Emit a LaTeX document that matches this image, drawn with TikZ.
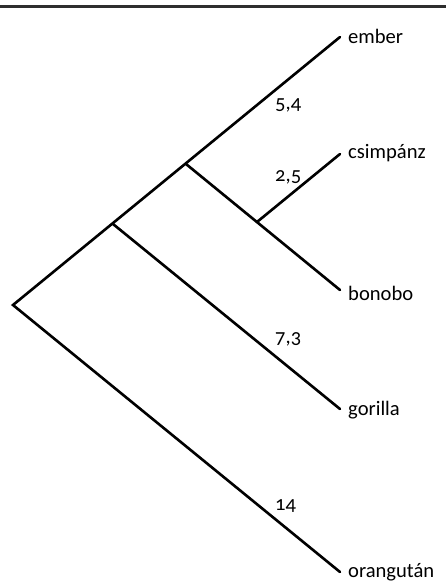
\documentclass[tikz,border=0pt]{standalone}
\usepackage{fontspec}
\setmainfont[Numbers=OldStyle]{Carlito}
\usepackage{tikz}

\tikzset{
  branch/.style={line width=2.6pt,line cap=round,line join=miter},
  leaf/.style={anchor=west,inner sep=0pt,font=\fontsize{20.5}{21}\selectfont},
  dist/.style={anchor=west,inner sep=0pt,font=\fontsize{20.5}{21}\selectfont}
}

\begin{document}
\begin{tikzpicture}[x=0.035cm,y=-0.035cm]
      \useasboundingbox (0,0) rectangle (446,588);
      \draw [line width=2.7pt,color=black!82] (0,6.5) -- (446,6.5);

      \coordinate (root) at (13,305);
      \coordinate (hgp) at (113,224);
      \coordinate (hp) at (186,164);
      \coordinate (pan) at (257,222);
      \coordinate (ember) at (340,37);
      \coordinate (csimp) at (340,154);
      \coordinate (bonobo) at (340,290);
      \coordinate (gorilla) at (340,409);
      \coordinate (orang) at (340,572);

      \node [leaf] (lember) at (348,36) {ember};
      \node [leaf] (lcsimp) at (348,153) {csimpánz};
      \node [leaf] (lbonobo) at (348,293) {bonobo};
      \node [leaf] (lgorilla) at (348,410) {gorilla};
      \node [leaf] (lorang) at (348,572) {orangután};

      \node [dist] (d1) at (275,105) {5,4};
      \node [dist] (d2) at (275,177) {2,5};
      \node [dist] (d3) at (275,339) {7,3};
      \node [dist] (d4) at (275,506) {14};

      \draw [branch] (ember) -- (root) -- (orang);
      \draw [branch] (hgp) -- (gorilla);
      \draw [branch] (hp) -- (bonobo);
      \draw [branch] (pan) -- (csimp);
    \end{tikzpicture}
\end{document}
